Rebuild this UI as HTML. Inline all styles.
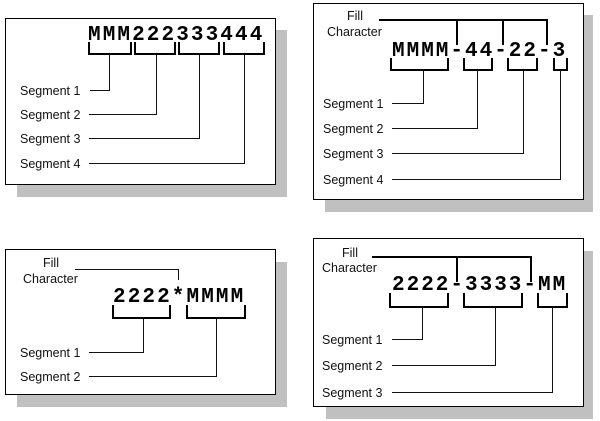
<!DOCTYPE html>
<html><head><meta charset="utf-8"><style>
html,body{margin:0;padding:0;background:#fff;}
svg{display:block;}
.lbl{font-family:"Liberation Sans",Arial,sans-serif;font-size:12.5px;fill:#111;}
.mono{font-family:"Liberation Mono","Courier New",monospace;font-size:21px;font-weight:bold;fill:#000;}
</style></head><body>
<svg width="600" height="421" viewBox="0 0 600 421" xmlns="http://www.w3.org/2000/svg">
<!-- Panel 1 -->
<rect x="17" y="30" width="270" height="167" fill="#c0c0c0"/>
<rect x="5.5" y="18.5" width="270" height="166" fill="#fff" stroke="#000" stroke-width="1"/>
<text class="mono" y="40" x="88 102.7 117.4 132.1 146.8 161.5 176.2 190.9 205.6 220.3 235 249.7">MMM222333444</text>
<g fill="none" stroke="#000" stroke-width="2">
<path d="M89,42 V54 H131 V42"/>
<path d="M135,42 V54 H175 V42"/>
<path d="M179,42 V54 H219 V42"/>
<path d="M224,42 V54 H264 V42"/>
</g>
<g fill="none" stroke="#111" stroke-width="1">
<path d="M90,90.5 H109.5 V54"/>
<path d="M89,114.5 H156.5 V54"/>
<path d="M89,138.5 H199.5 V54"/>
<path d="M89,163.5 H244.5 V54"/>
</g>
<text class="lbl" x="20" y="95">Segment 1</text>
<text class="lbl" x="20" y="119">Segment 2</text>
<text class="lbl" x="20" y="143">Segment 3</text>
<text class="lbl" x="20" y="168">Segment 4</text>

<!-- Panel 2 -->
<rect x="325" y="15" width="268" height="197" fill="#c0c0c0"/>
<rect x="313.5" y="3.5" width="270" height="196" fill="#fff" stroke="#000" stroke-width="1"/>
<text class="lbl" x="347" y="20">Fill</text>
<text class="lbl" x="327" y="36">Character</text>
<g fill="none" stroke="#000" stroke-width="2">
<path d="M379,20 H547 V45"/>
<path d="M457,20 V45"/>
<path d="M503,20 V45"/>
</g>
<text class="mono" y="56" x="392 406.6 421.2 435.8 450.4 465 479.6 494.2 508.8 523.4 538 552.6">MMMM-44-22-3</text>
<g fill="none" stroke="#000" stroke-width="2">
<path d="M391,58 V70 H448 V58"/>
<path d="M464,58 V70 H492 V58"/>
<path d="M508,58 V70 H537 V58"/>
<path d="M554,58 V70 H567 V58"/>
</g>
<g fill="none" stroke="#111" stroke-width="1">
<path d="M392,103.5 H423.5 V70"/>
<path d="M392,128.5 H477.5 V70"/>
<path d="M392,153.5 H523.5 V70"/>
<path d="M392,179.5 H560.5 V70"/>
</g>
<text class="lbl" x="323" y="108">Segment 1</text>
<text class="lbl" x="323" y="133">Segment 2</text>
<text class="lbl" x="323" y="158">Segment 3</text>
<text class="lbl" x="323" y="184">Segment 4</text>

<!-- Panel 3 -->
<rect x="17" y="262" width="270" height="145" fill="#c0c0c0"/>
<rect x="5.5" y="249.5" width="270" height="145" fill="#fff" stroke="#000" stroke-width="1"/>
<text class="lbl" x="43" y="267">Fill</text>
<text class="lbl" x="23" y="283">Character</text>
<path d="M75,269.5 H178.5 V280" fill="none" stroke="#111" stroke-width="1"/>
<text class="mono" y="302" x="113 127.7 142.4 157.1 171.8 186.5 201.2 215.9 230.6">2222*MMMM</text>
<g fill="none" stroke="#000" stroke-width="2">
<path d="M113,305 V318 H170 V305"/>
<path d="M187,305 V318 H245 V305"/>
</g>
<g fill="none" stroke="#111" stroke-width="1">
<path d="M89,352.5 H143.5 V318"/>
<path d="M89,376.5 H216.5 V318"/>
</g>
<text class="lbl" x="20" y="357">Segment 1</text>
<text class="lbl" x="20" y="381">Segment 2</text>

<!-- Panel 4 -->
<rect x="326" y="251" width="267" height="168" fill="#c0c0c0"/>
<rect x="313.5" y="238.5" width="270" height="168" fill="#fff" stroke="#000" stroke-width="1"/>
<text class="lbl" x="342" y="257">Fill</text>
<text class="lbl" x="322" y="272">Character</text>
<g fill="none" stroke="#000" stroke-width="2">
<path d="M372,257 H531 V282"/>
<path d="M457,257 V282"/>
</g>
<text class="mono" y="290" x="392 406.6 421.2 435.8 450.4 465 479.6 494.2 508.8 523.4 538 552.6">2222-3333-MM</text>
<g fill="none" stroke="#000" stroke-width="2">
<path d="M390,293 V307 H448 V293"/>
<path d="M464,293 V307 H522 V293"/>
<path d="M538,293 V307 H567 V293"/>
</g>
<g fill="none" stroke="#111" stroke-width="1">
<path d="M392,339.5 H422.5 V307"/>
<path d="M392,365.5 H495.5 V307"/>
<path d="M392,392.5 H552.5 V307"/>
</g>
<text class="lbl" x="322" y="344">Segment 1</text>
<text class="lbl" x="322" y="370">Segment 2</text>
<text class="lbl" x="322" y="397">Segment 3</text>
</svg>
</body></html>
